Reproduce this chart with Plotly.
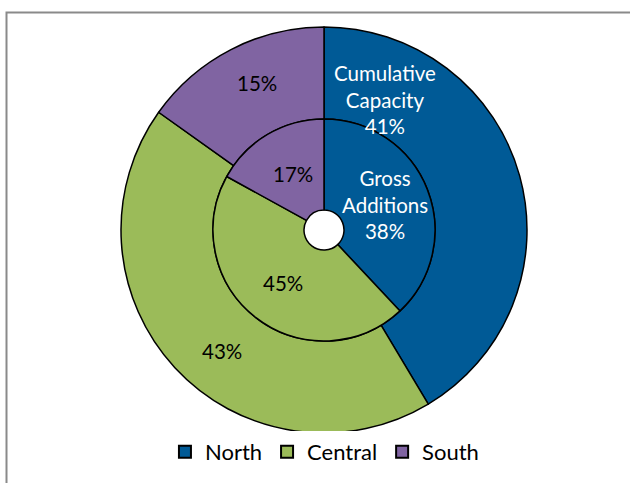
import plotly.graph_objects as go

regions = ["North", "Central", "South"]
colors = ["#005A96", "#9BBB59", "#8064A2"]
cumulative_capacity = [41, 43, 15]   # outer ring, %
gross_additions = [38, 45, 17]       # inner ring, %
outer_name = "Cumulative<br>Capacity"
inner_name = "Gross<br>Additions"

W, H = 630, 483
cx, cy = 324, 230
r_outer, r_inner, r_hole = 203, 111, 20

def dom(r):
    return dict(x=[(cx - r) / W, (cx + r) / W], y=[1 - (cy + r) / H, 1 - (cy - r) / H])

line = dict(color="black", width=1.5)
fig = go.Figure()
fig.add_trace(go.Pie(
    labels=regions, values=cumulative_capacity, sort=False, direction="clockwise",
    rotation=0, hole=r_inner / r_outer, domain=dom(r_outer),
    marker=dict(colors=colors, line=line), textinfo="none", hoverinfo="label+value",
    showlegend=True))
fig.add_trace(go.Pie(
    labels=regions, values=gross_additions, sort=False, direction="clockwise",
    rotation=0, hole=r_hole / r_inner, domain=dom(r_inner),
    marker=dict(colors=colors, line=line), textinfo="none", hoverinfo="label+value",
    showlegend=False))

font_family = "Lato, 'DejaVu Sans', sans-serif"
def px(x, y):
    return x / W, 1 - y / H

labels = [
    (385, 99, f"{outer_name}<br>{cumulative_capacity[0]}%", "white"),
    (257, 83, f"{cumulative_capacity[2]}%", "black"),
    (222, 351, f"{cumulative_capacity[1]}%", "black"),
    (385, 205, f"{inner_name}<br>{gross_additions[0]}%", "white"),
    (293, 174, f"{gross_additions[2]}%", "black"),
    (283, 283, f"{gross_additions[1]}%", "black"),
]
annotations = []
for x, y, t, c in labels:
    ax, ay = px(x, y)
    annotations.append(dict(x=ax, y=ay, xref="paper", yref="paper", text=t,
                            showarrow=False, xanchor="center", yanchor="middle",
                            font=dict(size=20.5, color=c, family=font_family)))

fig.update_layout(
    width=W, height=H, margin=dict(l=0, r=0, t=0, b=0),
    paper_bgcolor="white", plot_bgcolor="white",
    annotations=annotations,
    legend=dict(orientation="h", x=0.515, xanchor="center", y=1 - 452 / H, yanchor="middle",
                font=dict(size=22, color="black", family=font_family),
                itemsizing="constant", traceorder="normal", itemwidth=30),
    shapes=[dict(type="rect", xref="paper", yref="paper",
                 x0=6.5 / W, x1=1.02, y0=-0.02, y1=1 - 12.5 / H,
                 line=dict(color="#8A8A8A", width=2), layer="below")],
)
fig.write_html("out.html")
